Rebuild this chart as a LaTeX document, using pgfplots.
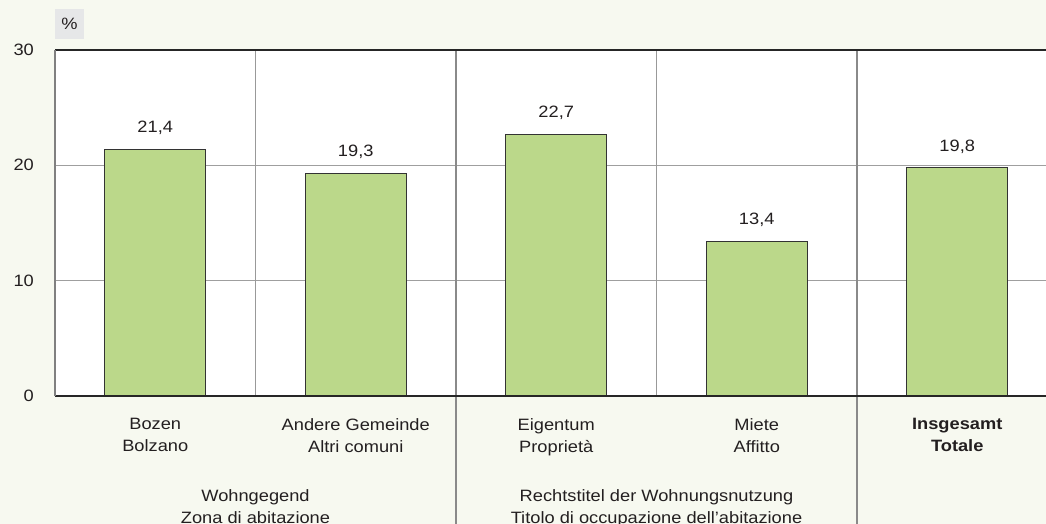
\documentclass[border=0pt]{standalone}
\usepackage{pgfplots}
\pgfplotsset{compat=1.18}
\usepackage{fontspec}
\setmainfont{Liberation Sans}[FakeStretch=1.11]
\definecolor{bg}{HTML}{F7F9F0}
\definecolor{barfill}{HTML}{BBD88A}
\definecolor{txt}{HTML}{231F20}
\definecolor{pctbox}{HTML}{E6E7E8}
\definecolor{sep}{HTML}{8A8A8A}
\begin{document}
\begin{tikzpicture}[x=1bp,y=1bp]
\path[use as bounding box, clip] (0,0) rectangle (1046,524);
\fill[bg] (0,0) rectangle (1046,524);
\fill[pctbox] (55,485) rectangle (84,515);
\node[font=\fontsize{16.5}{18}\selectfont, text=txt] at (69.5,500) {\%};
\begin{axis}[
  at={(55bp,128bp)}, anchor=south west,
  scale only axis, width=1002.5bp, height=346bp,
  xmin=-0.5, xmax=4.5, ymin=0, ymax=30,
  ytick={0,10,20,30}, xtick={0,1,2,3,4},
  xticklabels={{Bozen\\Bolzano},{Andere Gemeinde\\Altri comuni},{Eigentum\\Proprietà},{Miete\\Affitto},{\textbf{Insgesamt}\\\textbf{Totale}}},
  major tick length=0pt,
  axis line style={draw=none},
  axis background/.style={fill=white},
  ymajorgrids, major grid style={draw=gray!75, line width=0.8bp},
  tick label style={font=\fontsize{16.5}{22}\selectfont, text=txt},
  xticklabel style={anchor=north, align=center, inner sep=0pt, yshift=-22bp},
  yticklabel style={anchor=east, inner sep=0pt, xshift=-21bp},
  /pgf/number format/assume math mode=true,
  clip=false,
  ybar, bar width=0.505,
  nodes near coords,
  nodes near coords style={font=\fontsize{16.5}{22}\selectfont, text=txt, anchor=base, inner sep=0pt, yshift=16.5bp,
    /pgf/number format/.cd, fixed, fixed zerofill, precision=1, use comma, assume math mode=true},
]
\draw[gray!80, line width=0.8bp] (axis cs:0.5,0) -- (axis cs:0.5,30);
\draw[gray!80, line width=0.8bp] (axis cs:2.5,0) -- (axis cs:2.5,30);
\draw[sep, line width=1.6bp] (axis cs:1.5,30) -- ([yshift=-140bp]axis cs:1.5,0);
\draw[sep, line width=1.6bp] (axis cs:3.5,30) -- ([yshift=-140bp]axis cs:3.5,0);
\addplot[fill=barfill, draw=black!80, line width=0.9bp] coordinates {(0,21.4) (1,19.3) (2,22.7) (3,13.4) (4,19.8)};
\draw[black!85, line width=1.2bp] (rel axis cs:0,0) -- (rel axis cs:1,0);
\draw[black!85, line width=1.2bp] (rel axis cs:0,1) -- (rel axis cs:1,1);
\draw[gray, line width=1.2bp] (rel axis cs:0,0) -- (rel axis cs:0,1);
\node[align=center, anchor=north, inner sep=0pt, font=\fontsize{16.5}{22}\selectfont, text=txt] at (axis cs:0.5,0) [yshift=-93bp] {Wohngegend\\Zona di abitazione};
\node[align=center, anchor=north, inner sep=0pt, font=\fontsize{16.5}{22}\selectfont, text=txt] at (axis cs:2.5,0) [yshift=-93bp] {Rechtstitel der Wohnungsnutzung\\Titolo di occupazione dell’abitazione};
\end{axis}
\end{tikzpicture}
\end{document}
